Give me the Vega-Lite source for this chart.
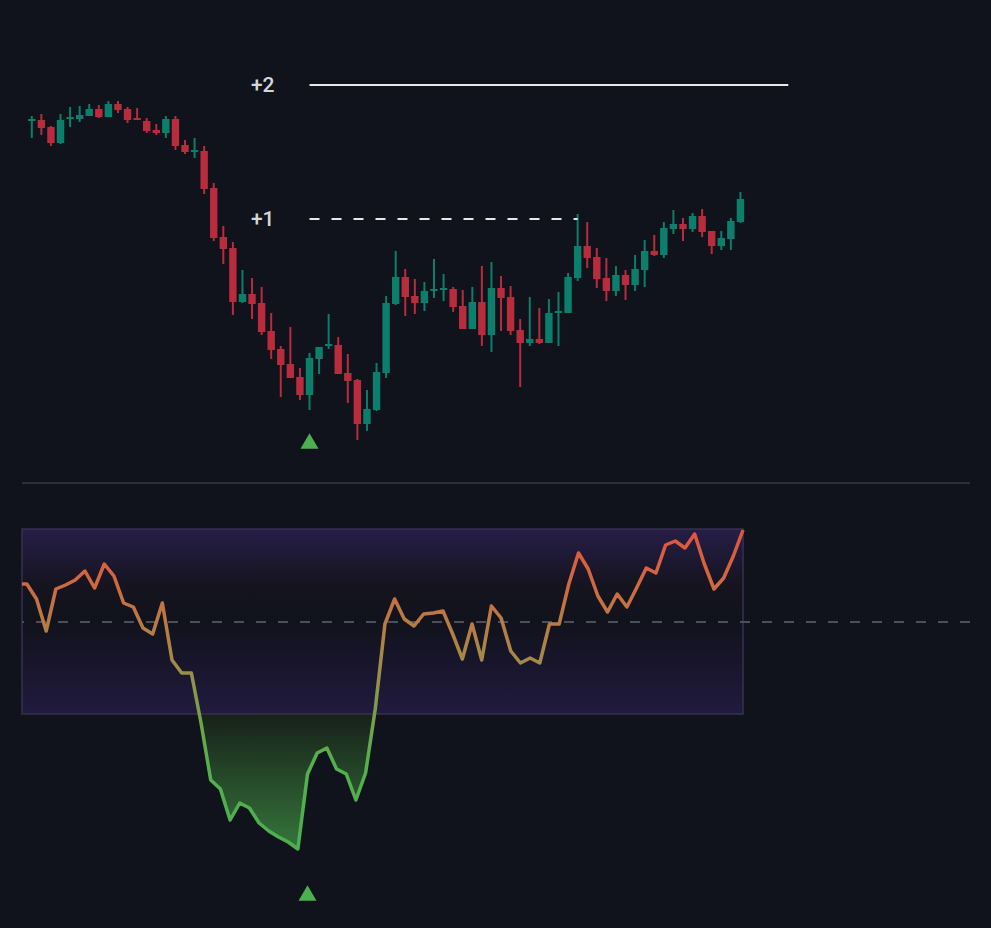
{
  "$schema": "https://vega.github.io/schema/vega-lite/v6.json",
  "background": "#10131b",
  "padding": {"left": 20, "right": 21, "top": 0, "bottom": 0},
  "spacing": 0,
  "config": {"view": {"stroke": null}},
  "datasets": {
    "candles": [
      {"i":0,"open":362,"high":367,"low":345,"close":364},
      {"i":1,"open":363,"high":369,"low":348,"close":355},
      {"i":2,"open":356,"high":357,"low":337,"close":340},
      {"i":3,"open":340,"high":369,"low":339,"close":363},
      {"i":4,"open":364,"high":376,"low":356,"close":366},
      {"i":5,"open":364,"high":377,"low":361,"close":368},
      {"i":6,"open":367,"high":379,"low":367,"close":374},
      {"i":7,"open":374,"high":378,"low":365,"close":366},
      {"i":8,"open":366,"high":382,"low":366,"close":379},
      {"i":9,"open":379,"high":382,"low":370,"close":373},
      {"i":10,"open":374,"high":376,"low":360,"close":363},
      {"i":11,"open":365,"high":375,"low":363,"close":363},
      {"i":12,"open":362,"high":365,"low":350,"close":352},
      {"i":13,"open":353,"high":359,"low":348,"close":350},
      {"i":14,"open":350,"high":367,"low":345,"close":364},
      {"i":15,"open":364,"high":367,"low":333,"close":337},
      {"i":16,"open":338,"high":343,"low":329,"close":331},
      {"i":17,"open":331,"high":345,"low":325,"close":333},
      {"i":18,"open":332,"high":337,"low":289,"close":294},
      {"i":19,"open":295,"high":300,"low":242,"close":245},
      {"i":20,"open":246,"high":257,"low":219,"close":234},
      {"i":21,"open":235,"high":241,"low":168,"close":181},
      {"i":22,"open":181,"high":213,"low":180,"close":189},
      {"i":23,"open":189,"high":205,"low":164,"close":179},
      {"i":24,"open":180,"high":196,"low":148,"close":151},
      {"i":25,"open":152,"high":170,"low":124,"close":133},
      {"i":26,"open":134,"high":137,"low":86,"close":118},
      {"i":27,"open":119,"high":156,"low":105,"close":105},
      {"i":28,"open":106,"high":115,"low":83,"close":88},
      {"i":29,"open":88,"high":130,"low":73,"close":125},
      {"i":30,"open":124,"high":136,"low":109,"close":136},
      {"i":31,"open":137,"high":169,"low":134,"close":139},
      {"i":32,"open":138,"high":146,"low":109,"close":109},
      {"i":33,"open":110,"high":129,"low":80,"close":102},
      {"i":34,"open":103,"high":104,"low":43,"close":59},
      {"i":35,"open":59,"high":93,"low":52,"close":74},
      {"i":36,"open":73,"high":120,"low":72,"close":111},
      {"i":37,"open":110,"high":187,"low":105,"close":180},
      {"i":38,"open":179,"high":232,"low":178,"close":206},
      {"i":39,"open":206,"high":214,"low":167,"close":186},
      {"i":40,"open":187,"high":204,"low":169,"close":180},
      {"i":41,"open":180,"high":201,"low":172,"close":192},
      {"i":42,"open":192,"high":224,"low":185,"close":194},
      {"i":43,"open":193,"high":209,"low":182,"close":195},
      {"i":44,"open":194,"high":196,"low":171,"close":176},
      {"i":45,"open":177,"high":193,"low":154,"close":154},
      {"i":46,"open":154,"high":196,"low":154,"close":181},
      {"i":47,"open":181,"high":217,"low":137,"close":148},
      {"i":48,"open":148,"high":221,"low":131,"close":195},
      {"i":49,"open":195,"high":207,"low":152,"close":185},
      {"i":50,"open":186,"high":197,"low":148,"close":152},
      {"i":51,"open":153,"high":164,"low":96,"close":140},
      {"i":52,"open":140,"high":186,"low":137,"close":144},
      {"i":53,"open":144,"high":175,"low":139,"close":140},
      {"i":54,"open":140,"high":184,"low":140,"close":170},
      {"i":55,"open":170,"high":191,"low":137,"close":172},
      {"i":56,"open":170,"high":210,"low":170,"close":206},
      {"i":57,"open":205,"high":269,"low":202,"close":237},
      {"i":58,"open":237,"high":261,"low":215,"close":225},
      {"i":59,"open":226,"high":235,"low":195,"close":204},
      {"i":60,"open":205,"high":225,"low":182,"close":192},
      {"i":61,"open":192,"high":217,"low":187,"close":208},
      {"i":62,"open":208,"high":213,"low":183,"close":198},
      {"i":63,"open":198,"high":228,"low":192,"close":214},
      {"i":64,"open":213,"high":243,"low":196,"close":232},
      {"i":65,"open":232,"high":248,"low":227,"close":228},
      {"i":66,"open":228,"high":261,"low":225,"close":255},
      {"i":67,"open":254,"high":273,"low":249,"close":259},
      {"i":68,"open":259,"high":265,"low":242,"close":254},
      {"i":69,"open":254,"high":270,"low":251,"close":267},
      {"i":70,"open":267,"high":274,"low":246,"close":251},
      {"i":71,"open":252,"high":252,"low":229,"close":237},
      {"i":72,"open":237,"high":252,"low":233,"close":245},
      {"i":73,"open":244,"high":265,"low":233,"close":262},
      {"i":74,"open":261,"high":291,"low":260,"close":284}
    ],
    "levels": [
      {"label":"+2","price":398,"start":29,"end":79,"kind":"solid"},
      {"label":"+1","price":264,"start":29,"end":57,"kind":"dashed"}
    ],
    "signals": [{"i":29,"price":42,"osc":-271}],
    "osc": [
      {"i":-0.5,"v":38},{"i":0,"v":38},{"i":1,"v":23},{"i":2,"v":-9},{"i":3,"v":33},{"i":4,"v":37},
      {"i":5,"v":42},{"i":6,"v":51},{"i":7,"v":34},{"i":8,"v":58},{"i":9,"v":46},
      {"i":10,"v":19},{"i":11,"v":15},{"i":12,"v":-6},{"i":13,"v":-12},{"i":14,"v":19},
      {"i":15,"v":-38},{"i":16,"v":-51},{"i":17,"v":-51},{"i":18,"v":-101},{"i":19,"v":-158},
      {"i":20,"v":-167},{"i":21,"v":-198},{"i":22,"v":-181},{"i":23,"v":-186},{"i":24,"v":-201},
      {"i":25,"v":-209},{"i":26,"v":-215},{"i":27,"v":-220},{"i":28,"v":-227},{"i":29,"v":-152},
      {"i":30,"v":-131},{"i":31,"v":-126},{"i":32,"v":-147},{"i":33,"v":-152},{"i":34,"v":-178},
      {"i":35,"v":-151},{"i":36,"v":-87},{"i":37,"v":-2},{"i":38,"v":23},{"i":39,"v":3},
      {"i":40,"v":-4},{"i":41,"v":8},{"i":42,"v":9},{"i":43,"v":11},{"i":44,"v":-12},
      {"i":45,"v":-37},{"i":46,"v":-2},{"i":47,"v":-38},{"i":48,"v":16},{"i":49,"v":4},
      {"i":50,"v":-29},{"i":51,"v":-41},{"i":52,"v":-36},{"i":53,"v":-41},{"i":54,"v":-2},
      {"i":55,"v":-2},{"i":56,"v":38},{"i":57,"v":69},{"i":58,"v":53},{"i":59,"v":26},
      {"i":60,"v":10},{"i":61,"v":28},{"i":62,"v":15},{"i":63,"v":34},{"i":64,"v":54},
      {"i":65,"v":49},{"i":66,"v":77},{"i":67,"v":81},{"i":68,"v":74},{"i":69,"v":88},
      {"i":70,"v":58},{"i":71,"v":33},{"i":72,"v":44},{"i":73,"v":66},{"i":74,"v":92}
    ]
  },
  "vconcat": [
    {
      "width": 948,
      "height": 483,
      "layer": [
        {
          "data": {"values": [{}]},
          "mark": {"type": "rule", "color": "#363a44", "strokeWidth": 1.5},
          "encoding": {
            "y": {"datum": 0, "type": "quantitative", "scale": {"domain": [0, 483], "nice": false, "zero": false}, "axis": null}
          }
        },
        {
          "data": {"name": "candles"},
          "mark": {"type": "rule", "strokeWidth": 2},
          "encoding": {
            "x": {"field": "i", "type": "quantitative", "scale": {"domain": [-0.5, 97.45], "nice": false, "zero": false}, "axis": null},
            "y": {"field": "low", "type": "quantitative", "scale": {"domain": [0, 483], "nice": false, "zero": false}, "axis": null},
            "y2": {"field": "high"},
            "color": {"condition": {"test": "datum.close >= datum.open", "value": "#0b7f6c"}, "value": "#b82c3d"}
          }
        },
        {
          "data": {"name": "candles"},
          "mark": {"type": "bar", "width": 7.4},
          "encoding": {
            "x": {"field": "i", "type": "quantitative"},
            "y": {"field": "open", "type": "quantitative"},
            "y2": {"field": "close"},
            "color": {"condition": {"test": "datum.close >= datum.open", "value": "#0b7f6c"}, "value": "#b82c3d"}
          }
        },
        {
          "data": {"name": "levels"},
          "transform": [{"filter": "datum.kind === 'solid'"}],
          "mark": {"type": "rule", "color": "#e8e8e8", "strokeWidth": 2},
          "encoding": {
            "x": {"field": "start", "type": "quantitative"},
            "x2": {"field": "end"},
            "y": {"field": "price", "type": "quantitative"}
          }
        },
        {
          "data": {"name": "levels"},
          "transform": [{"filter": "datum.kind === 'dashed'"}],
          "mark": {"type": "rule", "color": "#e8e8e8", "strokeWidth": 2, "strokeDash": [10, 12]},
          "encoding": {
            "x": {"field": "start", "type": "quantitative"},
            "x2": {"field": "end"},
            "y": {"field": "price", "type": "quantitative"}
          }
        },
        {
          "data": {"name": "levels"},
          "mark": {"type": "text", "align": "right", "baseline": "middle", "dx": -35, "dy": 1, "fontSize": 21, "font": "Roboto", "fontWeight": 500, "color": "#d6d6d6"},
          "encoding": {
            "x": {"field": "start", "type": "quantitative"},
            "y": {"field": "price", "type": "quantitative"},
            "text": {"field": "label"}
          }
        },
        {
          "data": {"name": "signals"},
          "mark": {"type": "point", "shape": "triangle-up", "filled": true, "size": 324, "color": "#4caf50", "opacity": 1},
          "encoding": {
            "x": {"field": "i", "type": "quantitative"},
            "y": {"field": "price", "type": "quantitative"}
          }
        }
      ]
    },
    {
      "width": 948,
      "height": 445,
      "layer": [
        {
          "data": {"name": "osc"},
          "mark": {
            "type": "area",
            "color": {
              "gradient": "linear", "x1": 0, "y1": 0, "x2": 0, "y2": 1,
              "stops": [
                {"offset": 0, "color": "#172119"},
                {"offset": 0.577, "color": "#172119"},
                {"offset": 1, "color": "#35763b"}
              ]
            }
          },
          "encoding": {
            "x": {"field": "i", "type": "quantitative", "scale": {"domain": [-0.5, 97.45], "nice": false, "zero": false}, "axis": null},
            "y": {"field": "v", "type": "quantitative", "scale": {"domain": [-307, 138], "nice": false, "zero": false}, "axis": null},
            "y2": {"datum": -92}
          }
        },
        {
          "data": {"values": [{}]},
          "mark": {
            "type": "rect",
            "stroke": "#37304f",
            "strokeWidth": 1.5,
            "fill": {
              "gradient": "linear", "x1": 0, "y1": 0, "x2": 0, "y2": 1,
              "stops": [
                {"offset": 0, "color": "#261e48"},
                {"offset": 0.3, "color": "#15141f"},
                {"offset": 0.5, "color": "#11131c"},
                {"offset": 0.72, "color": "#18152b"},
                {"offset": 1, "color": "#211b3e"}
              ]
            }
          },
          "encoding": {
            "x": {"datum": -0.5, "type": "quantitative"},
            "x2": {"datum": 74},
            "y": {"datum": 93, "type": "quantitative"},
            "y2": {"datum": -92}
          }
        },
        {
          "data": {"values": [{}]},
          "mark": {"type": "rule", "color": "#4b4f5c", "strokeWidth": 2, "strokeDash": [10, 12]},
          "encoding": {
            "y": {"datum": 0, "type": "quantitative"}
          }
        },
        {
          "data": {"name": "osc"},
          "mark": {
            "type": "line",
            "strokeWidth": 3.5,
            "strokeJoin": "round",
            "stroke": {
              "gradient": "linear", "x1": 0, "y1": 0, "x2": 0, "y2": 1,
              "stops": [
                {"offset": 0, "color": "#e0553f"},
                {"offset": 0.17, "color": "#d0693f"},
                {"offset": 0.29, "color": "#b97b43"},
                {"offset": 0.41, "color": "#a38a48"},
                {"offset": 0.577, "color": "#7a9e4a"},
                {"offset": 0.72, "color": "#55b04c"},
                {"offset": 1, "color": "#4caf50"}
              ]
            }
          },
          "encoding": {
            "x": {"field": "i", "type": "quantitative"},
            "y": {"field": "v", "type": "quantitative"}
          }
        },
        {
          "data": {"name": "signals"},
          "mark": {"type": "point", "shape": "triangle-up", "filled": true, "size": 324, "color": "#4caf50", "opacity": 1},
          "encoding": {
            "x": {"field": "i", "type": "quantitative"},
            "y": {"field": "osc", "type": "quantitative"}
          }
        }
      ]
    }
  ]
}
